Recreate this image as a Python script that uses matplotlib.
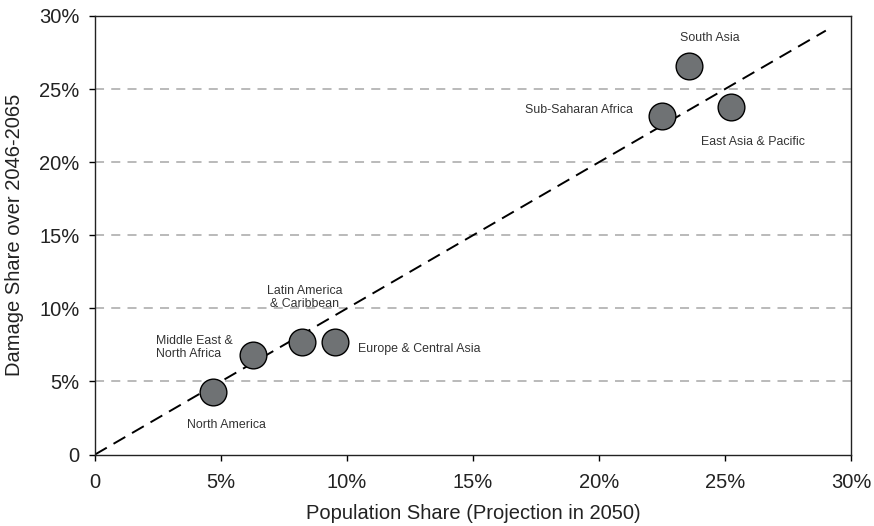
import numpy as np
import matplotlib
matplotlib.use("Agg")
import matplotlib.pyplot as plt

plt.rcParams['font.family'] = ['Liberation Sans', 'DejaVu Sans']

# Regional shares (%): population projection for 2050 vs damage share 2046-2065
regions = ['North America', 'Middle East &\nNorth Africa', 'Latin America\n& Caribbean',
           'Europe & Central Asia', 'Sub-Saharan Africa', 'South Asia',
           'East Asia & Pacific']
pop_share = [4.67, 6.25, 8.21, 9.51, 22.49, 23.56, 25.23]
damage_share = [4.28, 6.84, 7.69, 7.69, 23.19, 26.58, 23.74]

# label offsets in points and alignment for each region
label_pos = [
    ((10, -24), 'center', 'center'),
    ((-14, 5), 'right', 'left'),
    ((2, 32), 'center', 'center'),
    ((17, -5), 'left', 'left'),
    ((-21, 4), 'right', 'center'),
    ((15, 20), 'center', 'center'),
    ((16, -25), 'center', 'center'),
]

ticks = [0, 5, 10, 15, 20, 25, 30]
tick_labels = ['0', '5%', '10%', '15%', '20%', '25%', '30%']

fig = plt.figure(figsize=(8.74, 5.26), dpi=100)
ax = fig.add_axes([0.1087, 0.1359, 0.8650, 0.8337])

for y in ticks[1:-1]:
    ax.axhline(y, color='#b4b4b4', lw=1.3, ls=(0, (5, 4)), zorder=1)

ax.plot([0, 29], [0, 29], color='black', lw=1.4, ls=(0, (7, 4)), zorder=2)

ax.scatter(pop_share, damage_share, s=370, color='#6f7274', edgecolor='black',
           linewidth=1.0, zorder=3)

for name, x, y, (off, ha, ma) in zip(regions, pop_share, damage_share, label_pos):
    ax.annotate(name, (x, y), xytext=off, textcoords='offset points',
                ha=ha, va='center', multialignment=ma, fontsize=8.9,
                color='#333333', linespacing=1.15)

ax.set_xlim(0, 30)
ax.set_ylim(0, 30)
ax.set_xticks(ticks)
ax.set_xticklabels(tick_labels)
ax.set_yticks(ticks)
ax.set_yticklabels(tick_labels)
ax.tick_params(axis='both', direction='out', length=4, width=1, labelsize=14.5,
               labelcolor='#222222')
ax.tick_params(axis='x', pad=9)
ax.tick_params(axis='y', pad=7)
for sp in ax.spines.values():
    sp.set_linewidth(1.0)
    sp.set_color('#222222')

ax.set_xlabel('Population Share (Projection in 2050)', fontsize=14.5,
              color='#222222', labelpad=9)
ax.set_ylabel('Damage Share over 2046-2065', fontsize=14.5,
              color='#222222', labelpad=11)

fig.savefig('out.png', dpi=100)
